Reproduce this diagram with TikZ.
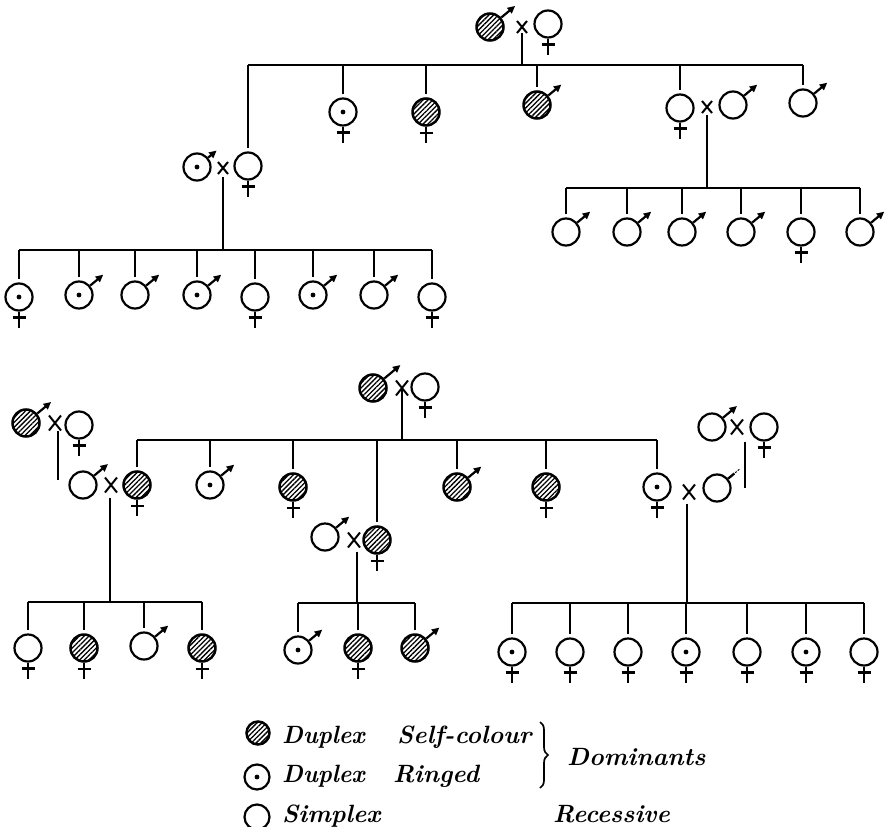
\documentclass[tikz,border=0pt]{standalone}
\usetikzlibrary{patterns.meta,shapes.misc,decorations.pathreplacing,arrows.meta}
\begin{document}
\begin{tikzpicture}[x=1pt,y=-1pt,
 ind/.style={circle, draw, line width=2.2pt, minimum size=27pt, inner sep=0pt},
 hat/.style={pattern={Lines[angle=45,distance=3.4pt,line width=1.3pt]}, line width=2.5pt},
 rng/.style={path picture={\fill (path picture bounding box.center) circle (2.4pt);}},
 ln/.style={line width=2.3pt},
 drop/.style={line width=2.3pt, shorten >=3pt},
 marr/.style={line width=2.2pt, -{Triangle[length=7.5pt,width=7pt]}},
 xs/.style={cross out, draw, line width=2pt, minimum width=8pt, minimum height=10pt, inner sep=0pt},
 xb/.style={xs, minimum width=10pt, minimum height=13pt},
 lg/.style={inner sep=0pt, font=\fontsize{25}{27}\selectfont\bfseries\itshape}
]
\useasboundingbox (0,0) rectangle (890,826);
\newcommand\mal[2][17]{\draw[marr] (#2.40) -- ++(-40:#1);}
\newcommand\fem[1]{\draw[ln] (#1.south) -- ++(0,16); \draw[ln] ([yshift=-6pt]#1.south) ++(-6.5,0) -- ++(13,0);}
\newcommand\lgt[2][1]{\scalebox{#1}[1]{#2}}

% ---------------- upper pedigree ----------------
\node[ind,hat] (A) at (490,27) {}; \mal[18]{A}
\node[xs] (xA) at (522,27) {};
\node[ind] (B) at (548,24) {}; \fem{B}
\coordinate (bA) at (522,65);

\node[ind] (C1) at (248,166) {}; \fem{C1}
\node[ind,rng] (D1) at (197,167) {}; \mal[11]{D1}
\node[xs] (xC1) at (223,168) {};
\node[ind,rng] (C2) at (343,112) {}; \fem{C2}
\node[ind,hat] (C3) at (426,112) {}; \fem{C3}
\node[ind,hat] (C4) at (537,105) {}; \mal{C4}
\node[ind] (C5) at (680,108) {}; \fem{C5}
\node[xs] (xC5) at (707,107) {};
\node[ind] (D5) at (733,105) {}; \mal{D5}
\node[ind] (C6) at (803,103) {}; \mal{C6}

\draw[ln] (xA.south) -- (bA);
\draw[ln] (C1 |- bA) -- (C6 |- bA);
\foreach \n in {C1,C2,C3,C4,C5,C6} \draw[drop] (\n |- bA) -- (\n.north);

% left F2
\coordinate (bC1) at (223,250);
\draw[ln] (xC1.south) ++(0,3) -- (bC1);
\node[ind,rng] (E1) at (19,297) {}; \fem{E1}
\node[ind,rng] (E2) at (79,295) {}; \mal{E2}
\node[ind] (E3) at (135,295) {}; \mal{E3}
\node[ind,rng] (E4) at (197,295) {}; \mal{E4}
\node[ind] (E5) at (255,297) {}; \fem{E5}
\node[ind,rng] (E6) at (313,295) {}; \mal{E6}
\node[ind] (E7) at (374,295) {}; \mal{E7}
\node[ind] (E8) at (432,297) {}; \fem{E8}
\draw[ln] (E1 |- bC1) -- (E8 |- bC1);
\foreach \n in {E1,E2,E3,E4,E5,E6,E7,E8} \draw[drop] (\n |- bC1) -- (\n.north);

% right F2
\coordinate (bC5) at (707,188);
\draw[ln] (xC5.south) ++(0,2) -- (bC5);
\node[ind] (G1) at (566,232) {}; \mal{G1}
\node[ind] (G2) at (627,232) {}; \mal{G2}
\node[ind] (G3) at (682,232) {}; \mal{G3}
\node[ind] (G4) at (741,232) {}; \mal{G4}
\node[ind] (G5) at (801,232) {}; \fem{G5}
\node[ind] (G6) at (860,232) {}; \mal{G6}
\draw[ln] (G1 |- bC5) -- (G6 |- bC5);
\foreach \n in {G1,G2,G3,G4,G5,G6} \draw[drop] (\n |- bC5) -- (\n.north);

% ---------------- lower pedigree ----------------
\node[ind,hat] (H) at (373,388) {}; \mal[21]{H}
\node[xb] (xH) at (402,388) {};
\node[ind] (I) at (425,387) {}; \fem{I}
\coordinate (bH) at (402,440);
\draw[ln] (xH.center) -- (bH);

\node[ind,hat] (J1) at (137,485) {}; \fem{J1}
\node[ind] (K1) at (83,485) {}; \mal[18]{K1}
\node[xb] (xJ1) at (111,485) {};
\node[ind,rng] (J2) at (210,485) {}; \mal{J2}
\node[ind,hat] (J3) at (293,487) {}; \fem{J3}
\node[ind,hat] (J4) at (377,540) {}; \fem{J4}
\node[ind] (K4) at (325,537) {}; \mal[17]{K4}
\node[xb] (xJ4) at (354,540) {};
\node[ind,hat] (J5) at (457,487) {}; \mal{J5}
\node[ind,hat] (J6) at (546,487) {}; \fem{J6}
\node[ind,rng] (J7) at (657,487) {}; \fem{J7}
\node[xb] (xJ7) at (689,492) {};
\node[ind] (K7) at (717,488) {};
\draw[ln] (K7.40) -- ++(-40:8);
\draw[line width=1pt, dash pattern=on 2pt off 1.5pt] (K7.40) ++(-40:9) -- ++(-40:7);

\draw[ln] (J1 |- bH) -- (J7 |- bH);
\foreach \n in {J1,J2,J3,J4,J5,J6,J7} \draw[drop] (\n |- bH) -- (\n.north);

% grandparents left
\node[ind,hat] (L1) at (26,423) {}; \mal[18]{L1}
\node[xb] (xL) at (55,423) {};
\node[ind] (L2) at (79,425) {}; \fem{L2}
\coordinate (lL) at (58,431);
\draw[ln] (lL) -- ([yshift=5pt]lL |- K1.center);

% grandparents right
\node[ind] (M1) at (712,427) {}; \mal[18]{M1}
\node[xb] (xM) at (737,427) {};
\node[ind] (M2) at (764,427) {}; \fem{M2}
\coordinate (lM) at (745,442);
\draw[ln] (lM) -- (lM |- K7.center);

% third generation left
\coordinate (bJ1) at (110,602);
\draw[ln] (bJ1 |- xJ1.south) ++(0,5) -- (bJ1);
\node[ind] (N1) at (28,648) {}; \fem{N1}
\node[ind,hat] (N2) at (84,648) {}; \fem{N2}
\node[ind] (N3) at (144,646) {}; \mal{N3}
\node[ind,hat] (N4) at (202,648) {}; \fem{N4}
\draw[ln] (N1 |- bJ1) -- (N4 |- bJ1);
\foreach \n in {N1,N2,N3,N4} \draw[drop] (\n |- bJ1) -- (\n.north);

% third generation middle
\coordinate (bJ4) at (357,603);
\draw[ln] (bJ4 |- xJ4.south) ++(0,4) -- (bJ4);
\node[ind,rng] (O1) at (298,650) {}; \mal{O1}
\node[ind,hat] (O2) at (358,648) {}; \fem{O2}
\node[ind,hat] (O3) at (415,648) {}; \mal{O3}
\draw[ln] (O1 |- bJ4) -- (O3 |- bJ4);
\foreach \n in {O1,O2,O3} \draw[drop] (\n |- bJ4) -- (\n.north);

% third generation right
\coordinate (bJ7) at (687,603);
\draw[ln] (bJ7 |- xJ7.south) ++(0,4) -- (bJ7);
\node[ind,rng] (Q1) at (512,652) {}; \fem{Q1}
\node[ind] (Q2) at (570,652) {}; \fem{Q2}
\node[ind] (Q3) at (628,652) {}; \fem{Q3}
\node[ind,rng] (Q4) at (686,652) {}; \fem{Q4}
\node[ind] (Q5) at (747,652) {}; \fem{Q5}
\node[ind,rng] (Q6) at (806,652) {}; \fem{Q6}
\node[ind] (Q7) at (864,652) {}; \fem{Q7}
\draw[ln] (Q1 |- bJ7) -- (Q7 |- bJ7);
\foreach \n in {Q1,Q2,Q3,Q4,Q5,Q6,Q7} \draw[drop] (\n |- bJ7) -- (\n.north);

% ---------------- legend ----------------
\node[ind,hat,minimum size=23pt] (R1) at (258,733) {};
\node[ind,rng,minimum size=25pt] (R2) at (257,777) {};
\node[ind,minimum size=25pt] (R3) at (257,817) {};
\node[lg, anchor=base west] (t1) at (282,743) {\lgt[0.95]{Duplex}};
\node[lg, anchor=base west] (t2) at (397,743) {\lgt[1.0]{Self-colour}};
\node[lg, anchor=base west] (t3) at (282,782) {\lgt[0.95]{Duplex}};
\node[lg, anchor=base west] (t4) at (393,782) {\lgt[1.0]{Ringed}};
\node[lg, anchor=base west] (t5) at (282,822) {\lgt[1.0]{Simplex}};
\node[lg, anchor=base west] (t6) at (553,822) {\lgt[1.0]{Recessive}};
\node[lg, anchor=base west] (t7) at (567,765) {Dominants};
\draw[line width=1.7pt, decorate, decoration={brace, amplitude=8pt}] (540,722) -- (540,788);
\end{tikzpicture}
\end{document}
